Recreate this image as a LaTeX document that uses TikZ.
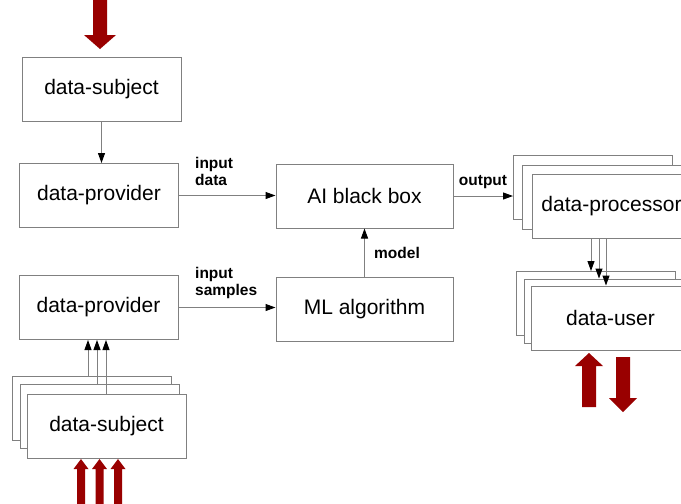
\documentclass[tikz,border=0pt]{standalone}
\usepackage{fontspec}
\setmainfont{Liberation Sans}
\usetikzlibrary{arrows.meta}

\definecolor{darkred}{RGB}{153,0,0}
\definecolor{linegray}{RGB}{128,128,128}

\tikzset{
  block/.style={draw=linegray, fill=white, line width=1pt, minimum width=159pt,
    minimum height=64pt, inner sep=0pt, font=\fontsize{21}{25}\selectfont},
  conn/.style={draw=linegray, line width=1pt,
    -{Triangle[length=10pt,width=7pt,color=black]}},
  lbl/.style={font=\fontsize{15.5}{17.5}\selectfont\bfseries, align=left, inner sep=0pt},
  redarrow/.style={fill=darkred, draw=none}
}

\begin{document}
\begin{tikzpicture}[x=1pt, y=-1pt]

  % page size of the picture
  \useasboundingbox (0,0) rectangle (681,504);
  \clip (0,0) rectangle (681,504);

  % left column
  \node[block] (subj) at (101.5,89) {data-subject};
  \node[block] (prov1) at (99,195.5) {data-provider};
  \node[block] (prov2) at (98.5,307.5) {data-provider};

  % stack of data subjects, back to front
  \node[block] (subjA) at (91.5,408.5) {};
  \node[block] (subjB) at (99.5,416) {};
  \node[block] (subjC) at (106.5,426) {data-subject};

  % middle column
  \node[block, minimum width=177pt] (ai) at (364.5,196) {AI black box};
  \node[block, minimum width=177pt] (ml) at (364.5,309) {ML algorithm};

  % stack of data processors
  \node[block] (procA) at (593,187) {};
  \node[block] (procB) at (601.5,197) {};
  \node[block] (procC) at (611.5,206) {data-processor};

  % stack of data users
  \node[block] (userA) at (595.5,303.5) {};
  \node[block] (userB) at (603.5,311) {};
  \node[block] (userC) at (610.5,318) {data-user};

  % connectors
  \draw[conn] (subj.south) -- (subj.south |- prov1.north);
  \draw[conn] (prov1.east) -- (prov1.east -| ai.west);
  \draw[conn] (prov2.east) -- (prov2.east -| ml.west);
  \draw[conn] (ml.north) -- (ai.south);
  \draw[conn] (ai.east) -- (ai.east -| procA.west);

  \foreach \dx/\src in {-10.5/subjA, -1.5/subjB, 7.5/subjC}
    \draw[conn] ([xshift=\dx]prov2.south |- \src.north) -- ([xshift=\dx]prov2.south);

  \foreach \dx/\tgt in {-20.5/userA, -12.5/userB, -5.5/userC}
    \draw[conn] ([xshift=\dx]procC.south) -- ([xshift=\dx]procC.south |- \tgt.north);

  % connector labels
  \node[lbl, anchor=north west] (lbldata) at (195,157) {input\\data};
  \node[lbl, anchor=north west] (lblsamples) at (195,267) {input\\samples};
  \node[lbl] (lblmodel) at (397,253) {model};
  \node[lbl] (lbloutput) at (483,182) {output};

  % red arrows
  \fill[redarrow] (93,-2) -- (107,-2) -- (107,35) -- (116,35) -- (100,49)
    -- (84,35) -- (93,35) -- cycle;
  \foreach \cx in {81,99.5,118}
    \fill[redarrow] (\cx,459) -- (\cx+7.5,469) -- (\cx+4,469) -- (\cx+4,506)
      -- (\cx-4,506) -- (\cx-4,469) -- (\cx-7.5,469) -- cycle;
  \fill[redarrow] (589,353) -- (603,366) -- (596,366) -- (596,407) -- (582,407)
    -- (582,366) -- (575,366) -- cycle;
  \fill[redarrow] (616,357) -- (630,357) -- (630,398) -- (637,398) -- (623,412)
    -- (609,398) -- (616,398) -- cycle;

\end{tikzpicture}
\end{document}
